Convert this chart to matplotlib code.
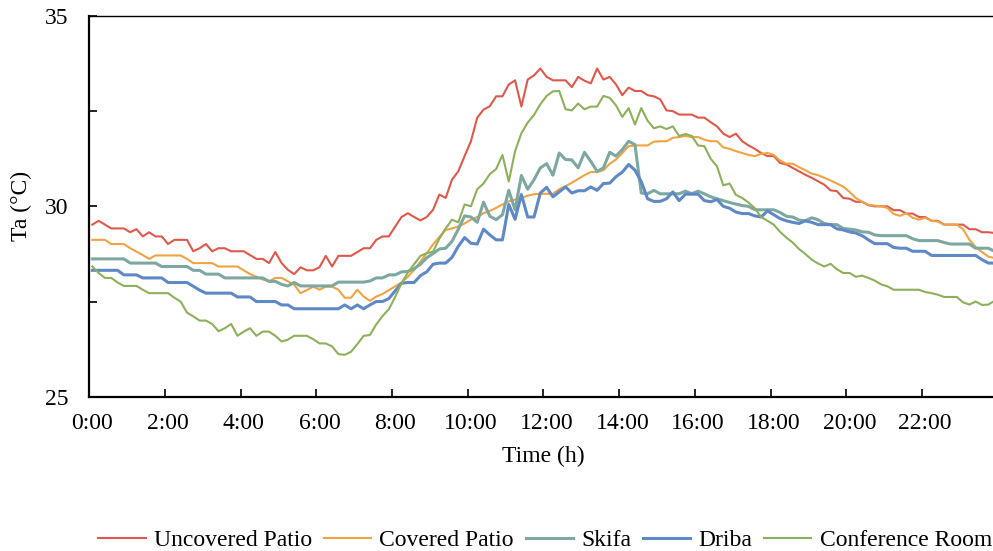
import numpy as np
import matplotlib
matplotlib.use("Agg")
import matplotlib.pyplot as plt
from matplotlib.ticker import FixedLocator

plt.rcParams['font.family'] = ['Liberation Serif', 'DejaVu Serif']

# 10-minute readings, 0:00 .. 23:50
times = ["%d:%02d" % (m // 60, m % 60) for m in range(0, 24 * 60, 10)]

uncovered_patio = [
    29.52, 29.62, 29.52, 29.42, 29.42, 29.42, 29.32, 29.40, 29.21, 29.32,
    29.21, 29.21, 29.01, 29.12, 29.12, 29.12, 28.82, 28.90, 29.01, 28.82,
    28.90, 28.90, 28.82, 28.82, 28.82, 28.72, 28.62, 28.62, 28.51, 28.80,
    28.51, 28.33, 28.22, 28.40, 28.32, 28.32, 28.40, 28.70, 28.42, 28.70,
    28.70, 28.70, 28.80, 28.90, 28.90, 29.12, 29.21, 29.21, 29.47, 29.72,
    29.82, 29.72, 29.63, 29.72, 29.91, 30.31, 30.22, 30.70, 30.92, 31.32,
    31.71, 32.33, 32.54, 32.63, 32.89, 32.89, 33.20, 33.31, 32.62, 33.33,
    33.44, 33.62, 33.40, 33.31, 33.31, 33.31, 33.13, 33.40, 33.30, 33.23,
    33.62, 33.33, 33.40, 33.20, 32.92, 33.12, 33.03, 33.03, 32.92, 32.89,
    32.81, 32.52, 32.50, 32.41, 32.41, 32.41, 32.33, 32.33, 32.21, 32.10,
    31.91, 31.82, 31.91, 31.71, 31.60, 31.51, 31.40, 31.32, 31.32, 31.14,
    31.10, 31.01, 30.92, 30.83, 30.75, 30.66, 30.57, 30.42, 30.40, 30.22,
    30.20, 30.12, 30.12, 30.03, 30.00, 30.00, 30.00, 29.90, 29.90, 29.81,
    29.81, 29.72, 29.72, 29.62, 29.62, 29.52, 29.52, 29.52, 29.52, 29.40,
    29.40, 29.32, 29.32, 29.30]

covered_patio = [
    29.12, 29.12, 29.12, 29.01, 29.01, 29.01, 28.90, 28.81, 28.72, 28.62,
    28.71, 28.71, 28.71, 28.71, 28.71, 28.62, 28.51, 28.51, 28.51, 28.51,
    28.42, 28.42, 28.42, 28.42, 28.32, 28.22, 28.15, 28.08, 28.03, 28.12,
    28.12, 28.03, 27.94, 27.72, 27.80, 27.89, 27.81, 27.89, 27.89, 27.81,
    27.60, 27.60, 27.81, 27.63, 27.52, 27.63, 27.70, 27.80, 27.90, 28.00,
    28.15, 28.33, 28.55, 28.77, 29.00, 29.20, 29.38, 29.42, 29.47, 29.55,
    29.65, 29.72, 29.82, 29.88, 29.96, 30.05, 30.13, 30.18, 30.22, 30.28,
    30.32, 30.33, 30.33, 30.33, 30.45, 30.53, 30.62, 30.72, 30.82, 30.90,
    30.90, 30.95, 31.12, 31.23, 31.40, 31.58, 31.60, 31.60, 31.60, 31.70,
    31.71, 31.71, 31.80, 31.82, 31.85, 31.82, 31.82, 31.75, 31.71, 31.71,
    31.55, 31.51, 31.45, 31.40, 31.35, 31.32, 31.38, 31.40, 31.35, 31.20,
    31.12, 31.12, 31.03, 30.95, 30.86, 30.82, 30.75, 30.68, 30.60, 30.52,
    30.38, 30.22, 30.12, 30.04, 30.02, 30.00, 29.96, 29.80, 29.75, 29.82,
    29.70, 29.65, 29.70, 29.62, 29.60, 29.52, 29.52, 29.52, 29.40, 29.12,
    28.93, 28.80, 28.68, 28.64]

skifa = [
    28.62, 28.62, 28.62, 28.62, 28.62, 28.62, 28.51, 28.51, 28.51, 28.51,
    28.51, 28.42, 28.42, 28.42, 28.42, 28.42, 28.32, 28.32, 28.22, 28.22,
    28.22, 28.12, 28.12, 28.12, 28.12, 28.12, 28.12, 28.12, 28.03, 28.03,
    27.95, 27.91, 28.00, 27.91, 27.91, 27.91, 27.91, 27.91, 27.91, 28.01,
    28.01, 28.01, 28.01, 28.01, 28.04, 28.12, 28.12, 28.20, 28.20, 28.28,
    28.29, 28.36, 28.48, 28.65, 28.76, 28.88, 28.90, 29.08, 29.40, 29.75,
    29.72, 29.58, 30.11, 29.74, 29.65, 29.78, 30.42, 29.91, 30.81, 30.45,
    30.70, 31.01, 31.12, 30.82, 31.40, 31.23, 31.22, 31.01, 31.42, 31.18,
    30.92, 31.01, 31.42, 31.32, 31.49, 31.71, 31.62, 30.35, 30.33, 30.42,
    30.33, 30.33, 30.33, 30.33, 30.40, 30.33, 30.40, 30.33, 30.25, 30.20,
    30.15, 30.10, 30.06, 30.02, 30.00, 29.91, 29.91, 29.91, 29.91, 29.84,
    29.74, 29.72, 29.64, 29.62, 29.70, 29.65, 29.55, 29.52, 29.52, 29.42,
    29.40, 29.38, 29.33, 29.32, 29.25, 29.23, 29.23, 29.23, 29.23, 29.23,
    29.15, 29.10, 29.10, 29.10, 29.10, 29.05, 29.01, 29.01, 29.01, 29.01,
    28.90, 28.90, 28.90, 28.82]

driba = [
    28.32, 28.32, 28.32, 28.32, 28.32, 28.20, 28.20, 28.20, 28.12, 28.12,
    28.12, 28.12, 28.00, 28.00, 28.00, 28.00, 27.90, 27.80, 27.72, 27.72,
    27.72, 27.72, 27.72, 27.62, 27.62, 27.62, 27.50, 27.50, 27.50, 27.50,
    27.41, 27.41, 27.31, 27.31, 27.31, 27.31, 27.31, 27.31, 27.31, 27.31,
    27.41, 27.31, 27.41, 27.31, 27.41, 27.50, 27.50, 27.58, 27.78, 27.98,
    28.00, 28.00, 28.18, 28.28, 28.48, 28.51, 28.51, 28.66, 28.95, 29.18,
    29.03, 29.01, 29.40, 29.25, 29.12, 29.12, 30.05, 29.66, 30.31, 29.72,
    29.72, 30.35, 30.50, 30.25, 30.38, 30.51, 30.35, 30.41, 30.41, 30.51,
    30.42, 30.60, 30.61, 30.78, 30.90, 31.10, 30.95, 30.65, 30.20, 30.13,
    30.13, 30.20, 30.38, 30.15, 30.32, 30.32, 30.32, 30.15, 30.12, 30.18,
    30.00, 29.95, 29.85, 29.81, 29.81, 29.75, 29.72, 29.88, 29.78, 29.68,
    29.62, 29.58, 29.55, 29.62, 29.58, 29.52, 29.52, 29.52, 29.41, 29.38,
    29.33, 29.30, 29.23, 29.12, 29.02, 29.02, 29.02, 28.92, 28.90, 28.90,
    28.82, 28.82, 28.82, 28.71, 28.71, 28.71, 28.71, 28.71, 28.71, 28.71,
    28.71, 28.60, 28.51, 28.51]

conference_room = [
    28.42, 28.25, 28.12, 28.12, 28.00, 27.91, 27.91, 27.91, 27.81, 27.72,
    27.72, 27.72, 27.72, 27.60, 27.50, 27.21, 27.11, 27.00, 27.00, 26.91,
    26.72, 26.80, 26.91, 26.60, 26.71, 26.80, 26.60, 26.71, 26.71, 26.60,
    26.45, 26.50, 26.60, 26.60, 26.60, 26.51, 26.40, 26.40, 26.32, 26.12,
    26.10, 26.18, 26.38, 26.60, 26.62, 26.90, 27.12, 27.30, 27.62, 27.98,
    28.26, 28.48, 28.70, 28.77, 28.81, 29.15, 29.42, 29.65, 29.58, 30.05,
    30.00, 30.45, 30.60, 30.85, 30.98, 31.35, 30.65, 31.45, 31.92, 32.20,
    32.40, 32.68, 32.90, 33.02, 33.03, 32.55, 32.52, 32.70, 32.55, 32.62,
    32.62, 32.90, 32.85, 32.65, 32.35, 32.58, 32.15, 32.58, 32.25, 32.05,
    32.10, 32.03, 32.10, 31.85, 31.90, 31.85, 31.60, 31.58, 31.25, 31.05,
    30.55, 30.60, 30.30, 30.22, 30.10, 29.95, 29.72, 29.62, 29.52, 29.33,
    29.18, 29.05, 28.88, 28.75, 28.60, 28.50, 28.42, 28.49, 28.35, 28.25,
    28.25, 28.15, 28.18, 28.12, 28.05, 27.95, 27.90, 27.81, 27.81, 27.81,
    27.81, 27.81, 27.75, 27.72, 27.68, 27.62, 27.62, 27.62, 27.48, 27.42,
    27.50, 27.41, 27.42, 27.52]

x = np.arange(len(times))

fig = plt.figure(figsize=(9.93, 5.51), dpi=100)
# plot area runs off the right edge like the original
ax = fig.add_axes([0.0898, 0.28, 0.9150, 0.691])

ax.plot(x, uncovered_patio, color='#E0584A', lw=1.5, label='Uncovered Patio')
ax.plot(x, covered_patio, color='#F0A342', lw=1.5, label='Covered Patio')
ax.plot(x, skifa, color='#7DA8A2', lw=2.2, label='Skifa')
ax.plot(x, driba, color='#5F88C6', lw=2.2, label='Driba')
ax.plot(x, conference_room, color='#8DB05A', lw=1.5, label='Conference Room')

ax.set_xlim(-0.5, len(times) - 0.5)
ax.set_ylim(25, 35)

# labels on every 12th category, tick marks between categories
ax.set_xticks(x[::12])
ax.set_xticklabels(times[::12])
ax.xaxis.set_minor_locator(FixedLocator(np.arange(-0.5, len(times), 12)))
ax.tick_params(axis='x', which='major', length=0, pad=12, labelsize=17)
ax.tick_params(axis='x', which='minor', direction='in', length=6, width=1.2)

ax.set_yticks([25, 30, 35])
ax.yaxis.set_minor_locator(FixedLocator([27.5, 32.5]))
ax.tick_params(axis='y', which='both', direction='in', length=6, width=1.2,
               pad=15, labelsize=17)

for s in ['left', 'bottom']:
    ax.spines[s].set_linewidth(1.6)
ax.spines['top'].set_linewidth(1.0)
ax.spines['right'].set_visible(False)

ax.set_xlabel('Time (h)', fontsize=17, labelpad=8)
ax.set_ylabel('Ta (°C)', fontsize=17, labelpad=9)

fig.legend(loc='lower center', bbox_to_anchor=(0.549, -0.039), ncol=5,
           frameon=False, fontsize=17, handlelength=2.0, handletextpad=0.35,
           columnspacing=0.5)

fig.savefig('out.png', dpi=100)
